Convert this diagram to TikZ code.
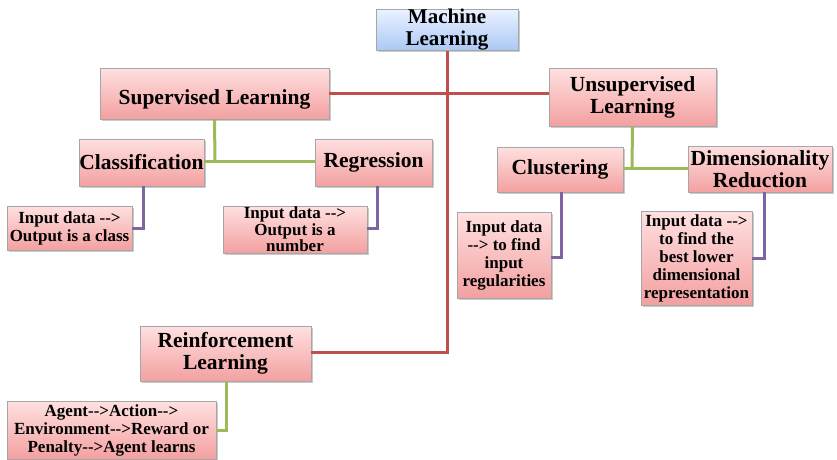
\documentclass[tikz,border=0pt]{standalone}
\usepackage{fontspec}
\setmainfont{Liberation Serif}
\usetikzlibrary{shadows}
\definecolor{redl}{RGB}{192,80,77}
\definecolor{greenl}{RGB}{155,187,89}
\definecolor{purplel}{RGB}{128,100,162}
\definecolor{pinktop}{RGB}{255,224,224}
\definecolor{pinkbot}{RGB}{243,160,160}
\definecolor{bluetop}{RGB}{235,242,255}
\definecolor{bluebot}{RGB}{170,200,245}
\newcommand{\arw}{-{}->}
\tikzset{
  box/.style={draw=gray!70, line width=0.6pt, top color=pinktop, bottom color=pinkbot,
    drop shadow={shadow xshift=1.5pt, shadow yshift=-1.5pt, fill=black!40},
    font=\bfseries, align=center, inner sep=0pt},
  bigbox/.style={box, font=\fontsize{21.5}{22}\selectfont\bfseries},
  leaf/.style={box, font=\fontsize{17}{18}\selectfont\bfseries},
  mlbox/.style={box, top color=bluetop, bottom color=bluebot, font=\fontsize{21}{22}\selectfont\bfseries},
  redc/.style={draw=redl, line width=3pt},
  greenc/.style={draw=greenl, line width=3pt},
  purc/.style={draw=purplel, line width=3pt},
}
\begin{document}
\begin{tikzpicture}[x=1pt,y=-1pt]
\useasboundingbox[fill=white] (0,0) rectangle (837,459);
\node[mlbox, minimum width=142pt, minimum height=40pt] (ml) at (447,30) {Machine\\Learning};
\node[bigbox, minimum width=229pt, minimum height=51pt, text height=26pt, text depth=4.7pt] (sup) at (214.5,93.5) {Supervised Learning};
\node[bigbox, minimum width=167pt, minimum height=58pt] (uns) at (632.5,97) {Unsupervised\\Learning};
\node[bigbox, minimum width=125pt, minimum height=47pt] (cla) at (141.5,162.5) {Classification};
\node[bigbox, minimum width=117pt, minimum height=47pt] (reg) at (373.5,162.5) {Regression};
\node[bigbox, minimum width=126pt, minimum height=45pt] (clu) at (560,169.5) {Clustering};
\node[bigbox, minimum width=144pt, minimum height=46pt] (dim) at (760,169) {Dimensionality\\Reduction};
\node[leaf, minimum width=125pt, minimum height=44pt] (l1) at (69.5,228) {Input data \arw\\Output is a class};
\node[leaf, minimum width=144pt, minimum height=47pt, font=\fontsize{17}{16.5}\selectfont\bfseries] (l2) at (295,229.5) {Input data \arw\\Output is a\\number};
\node[leaf, minimum width=94pt, minimum height=86pt] (l3) at (504,255) {Input data\\\arw{} to find\\input\\regularities};
\node[leaf, minimum width=111pt, minimum height=94pt] (l4) at (696.5,258) {Input data \arw\\to find the\\best lower\\dimensional\\representation};
\node[bigbox, minimum width=171pt, minimum height=55pt] (rl) at (225.5,353.5) {Reinforcement\\Learning};
\node[leaf, minimum width=209pt, minimum height=58pt] (l5) at (111.5,430) {Agent\arw Action\arw\\Environment\arw Reward or\\Penalty\arw Agent learns};
% junction coordinates
\coordinate (mlj) at (447,352);
\coordinate (supj) at (215,161.5);
\coordinate (unsj) at (632,168);
\coordinate (c1) at (143,228);
\coordinate (c2a) at (377,186);
\coordinate (c2) at (377,228);
\coordinate (c3a) at (561,192);
\coordinate (c3) at (561,257);
\coordinate (c4a) at (764,192);
\coordinate (c4) at (764,258);
\coordinate (c5a) at (226,381);
\coordinate (c5) at (226,430);
% connectors
\draw[redc] (sup.east) -- (sup.east -| uns.west);
\draw[redc] (ml.south) -- (mlj) -- (rl.east |- mlj);
\draw[greenc] (sup.south) -- (supj);
\draw[greenc] (cla.east |- supj) -- (reg.west |- supj);
\draw[greenc] (uns.south) -- (unsj);
\draw[greenc] (clu.east |- unsj) -- (dim.west |- unsj);
\draw[purc] (cla.south -| c1) -- (c1) -- (l1.east |- c1);
\draw[purc] (c2a) -- (c2) -- (l2.east |- c2);
\draw[purc] (c3a) -- (c3) -- (l3.east |- c3);
\draw[purc] (c4a) -- (c4) -- (l4.east |- c4);
\draw[greenc] (c5a) -- (c5) -- (l5.east |- c5);
\end{tikzpicture}
\end{document}
